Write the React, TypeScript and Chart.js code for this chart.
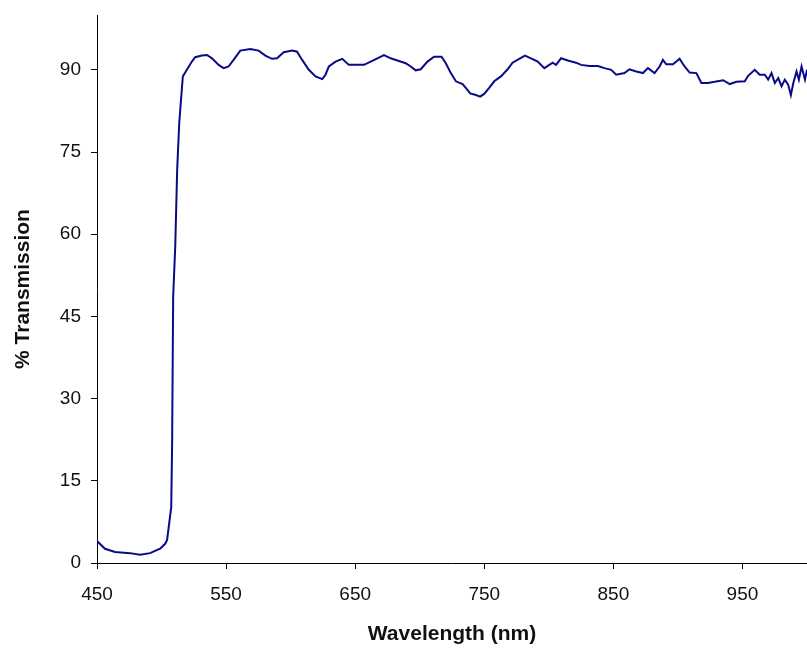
import React, { useEffect, useRef } from "react";
import { Chart, registerables } from "chart.js";

Chart.register(...registerables);

// Wavelength (nm)
const wavelengths = [
  450, 456.2, 464.0, 475.6, 483.4, 491.1, 498.9, 502.8, 504.3, 507.5, 508.2, 509.0, 510.6, 512.1, 513.7,
  515.8, 516.5, 519.6, 523.5, 526.1, 531.3, 535.2, 539.1, 544.2, 548.1, 551.9, 555.8, 561.0, 568.8,
  575.2, 580.4, 585.6, 589.5, 594.6, 601.2, 605.0, 608.9, 614.1, 619.3, 624.5, 627.0, 629.6, 634.8,
  640.0, 645.1, 651.6, 656.8, 662.0, 667.2, 672.3, 677.5, 682.7, 689.1, 693.0, 696.9, 700.8, 706.0,
  711.1, 716.9, 720.2, 724.1, 728.0, 733.2, 735.7, 739.1, 743.5, 746.8, 749.9, 753.8, 757.7, 762.9,
  768.1, 771.9, 777.1, 781.5, 786.2, 791.4, 796.5, 800.4, 803.0, 805.6, 809.5, 814.7, 821.1, 825.0,
  831.5, 838.0, 843.1, 848.3, 852.2, 858.6, 862.5, 867.7, 872.9, 876.8, 881.9, 885.8, 888.4, 891.0,
  896.2, 901.3, 905.2, 909.1, 914.3, 918.2, 923.4, 928.5, 935.0, 940.2, 945.3, 951.8, 954.4, 959.5,
  963.4, 967.3, 969.9, 972.5, 975.1, 977.7, 980.3, 982.8, 985.4, 987.5, 989.4, 991.9, 993.7, 995.8,
  998.4, 1000,
];

// % Transmission
const transmission = [
  4.0, 2.6, 2.0, 1.8, 1.5, 1.8, 2.6, 3.5, 4.2, 10.2, 21.9, 48.6, 57.7, 71.7, 80.3,
  86.7, 88.8, 90.0, 91.5, 92.3, 92.6, 92.7, 92.1, 90.9, 90.3, 90.6, 91.8, 93.5, 93.8,
  93.5, 92.6, 92.0, 92.1, 93.2, 93.5, 93.3, 91.8, 90.0, 88.8, 88.3, 89.1, 90.6, 91.5,
  92.0, 90.9, 90.9, 90.9, 91.5, 92.1, 92.7, 92.1, 91.7, 91.2, 90.6, 89.9, 90.1, 91.5,
  92.4, 92.4, 91.2, 89.4, 87.9, 87.4, 86.7, 85.7, 85.4, 85.1, 85.6, 86.7, 87.9, 88.8,
  90.1, 91.3, 92.0, 92.6, 92.1, 91.5, 90.3, 90.9, 91.3, 90.9, 92.1, 91.7, 91.3, 90.9,
  90.7, 90.7, 90.3, 90.0, 89.1, 89.4, 90.1, 89.7, 89.4, 90.3, 89.4, 90.6, 91.8, 91.0,
  91.0, 92.0, 90.6, 89.5, 89.4, 87.6, 87.6, 87.8, 88.1, 87.4, 87.8, 87.9, 88.9, 90.0,
  89.1, 89.1, 88.2, 89.4, 87.6, 88.5, 87.0, 88.2, 87.3, 85.4, 87.6, 89.7, 88.2, 90.6,
  88.2, 90.0,
];

const xTickValues = [450, 550, 650, 750, 850, 950];
const yTickValues = [0, 15, 30, 45, 60, 75, 90];

export default function App() {
  const ref = useRef<HTMLCanvasElement | null>(null);

  useEffect(() => {
    if (!ref.current) return;
    const points = wavelengths.map((w, i) => ({ x: w, y: transmission[i] }));
    const tickFont = { family: "'Liberation Sans', Arial, sans-serif", size: 19 };
    const titleFont = { family: "'Liberation Sans', Arial, sans-serif", size: 21, weight: "bold" as const };
    const chart = new Chart(ref.current, {
      type: "line",
      data: {
        datasets: [
          {
            data: points,
            borderColor: "#0a0a86",
            borderWidth: 2,
            pointRadius: 0,
            tension: 0,
            fill: false,
          },
        ],
      },
      options: {
        animation: false,
        responsive: false,
        layout: { padding: { top: 15, left: 0, right: 0, bottom: 0 } },
        plugins: { legend: { display: false }, tooltip: { enabled: false } },
        scales: {
          x: {
            type: "linear",
            min: 450,
            max: 1000,
            afterBuildTicks: (scale: any) => {
              scale.ticks = xTickValues.map((v) => ({ value: v }));
            },
            afterFit: (scale: any) => {
              scale.height = 93;
              scale.paddingRight = 0;
            },
            grid: {
              drawOnChartArea: false,
              drawTicks: true,
              tickLength: 6,
              color: "#000",
              tickColor: "#000",
            },
            border: { display: true, color: "#000", width: 1 },
            ticks: {
              color: "#111",
              font: tickFont,
              padding: 14,
              maxRotation: 0,
              autoSkip: false,
            },
            title: {
              display: true,
              text: "Wavelength (nm)",
              color: "#111",
              font: titleFont,
              padding: { top: 4, bottom: 9 },
            },
          },
          y: {
            type: "linear",
            min: 0,
            max: 100,
            afterBuildTicks: (scale: any) => {
              scale.ticks = yTickValues.map((v) => ({ value: v }));
            },
            afterFit: (scale: any) => {
              scale.width = 97;
              scale.paddingTop = 0;
              scale.paddingBottom = 0;
            },
            grid: {
              drawOnChartArea: false,
              drawTicks: true,
              tickLength: 6,
              color: "#000",
              tickColor: "#000",
            },
            border: { display: true, color: "#000", width: 1 },
            ticks: {
              color: "#111",
              font: tickFont,
              padding: 10,
              autoSkip: false,
            },
            title: {
              display: true,
              text: "% Transmission",
              color: "#111",
              font: titleFont,
              padding: { top: 11, bottom: 4 },
            },
          },
        },
      },
    });
    return () => chart.destroy();
  }, []);

  return (
    <div style={{ position: "absolute", left: 0, top: 0, width: 807, height: 656 }}>
      <canvas ref={ref} width={807} height={656} />
    </div>
  );
}
